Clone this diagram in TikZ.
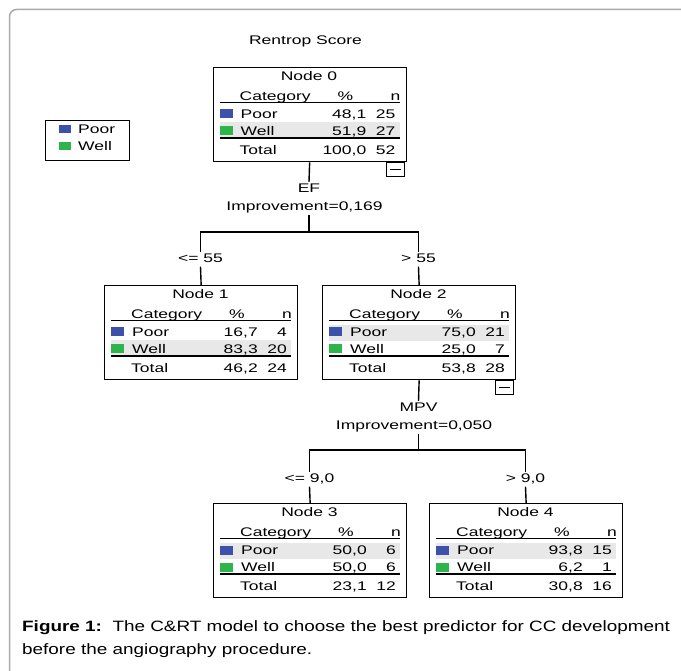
\documentclass[tikz,border=0pt]{standalone}
\usepackage{fontspec}
\newfontfamily\treefont[FakeStretch=1.4]{Liberation Sans}
\newfontfamily\capfont[FakeStretch=1.26]{Liberation Sans}
\usetikzlibrary{calc,positioning}

\definecolor{poorblue}{RGB}{60,82,170}
\definecolor{wellgreen}{RGB}{45,180,75}
\definecolor{rowgray}{RGB}{232,232,232}
\definecolor{framegray}{RGB}{170,170,170}

% one tree node: index, top left corner, offset of shaded row, table values
\newcommand{\ctnode}[9]{%
  \coordinate (c#1) at (#2);
  \fill[rowgray] ($(c#1)+(7,#3)$) rectangle ++(180,16);
  \node[treebox] (n#1) at (c#1) {};
  \node[txt,anchor=base] at ($(c#1)+(96.5,13.5)$) {Node #1};
  \node[txt,anchor=base west] at ($(c#1)+(27,33.5)$) {Category};
  \node[txt,anchor=base] at ($(c#1)+(133,33.5)$) {\%};
  \node[txt,anchor=base east] at ($(c#1)+(188,33.5)$) {n};
  \draw[rule] ($(c#1)+(7,35.5)$) -- ++(180,0);
  \fill[poorblue] ($(c#1)+(7,42.5)$) rectangle ++(13,9);
  \node[txt,anchor=base west] at ($(c#1)+(28,51.5)$) {Poor};
  \node[txt,anchor=base east] at ($(c#1)+(154,51.5)$) {#4};
  \node[txt,anchor=base east] at ($(c#1)+(183,51.5)$) {#5};
  \fill[wellgreen] ($(c#1)+(7,59.5)$) rectangle ++(13,9);
  \node[txt,anchor=base west] at ($(c#1)+(28,68.5)$) {Well};
  \node[txt,anchor=base east] at ($(c#1)+(154,68.5)$) {#6};
  \node[txt,anchor=base east] at ($(c#1)+(183,68.5)$) {#7};
  \draw[rule,line width=1.7pt] ($(c#1)+(7,71)$) -- ++(180,0);
  \node[txt,anchor=base west] at ($(c#1)+(27,87.5)$) {Total};
  \node[txt,anchor=base east] at ($(c#1)+(154,87.5)$) {#8};
  \node[txt,anchor=base east] at ($(c#1)+(183,87.5)$) {#9};
}

\begin{document}
\begin{tikzpicture}[x=1pt,y=-1pt]

  \tikzstyle{txt}=[font=\treefont\fontsize{12.5}{15}\selectfont,inner sep=0pt];
  \tikzstyle{lbl}=[txt,inner sep=1.5pt,text height=9pt,text depth=2.5pt,anchor=base];
  \tikzstyle{treebox}=[draw,line width=1.3pt,rectangle,anchor=north west,
    minimum width=193pt,minimum height=94pt,inner sep=0pt];
  \tikzstyle{minusbox}=[draw,line width=1.2pt,rectangle,anchor=north east,
    minimum width=18pt,minimum height=14pt,inner sep=0pt];
  \tikzstyle{rule}=[line width=1.3pt];
  \tikzstyle{edge}=[line width=1.4pt];

  \useasboundingbox (0,0) rectangle (681,671);
  \draw[framegray,line width=1.5pt,rounded corners=7pt] (681,9.5) -- (9.5,9.5) -- (9.5,671);

  \node[txt,anchor=base] (title) at (305.5,44.5) {Rentrop Score};

  %% legend
  \node[draw,line width=1.4pt,anchor=north west,minimum width=84pt,
    minimum height=40pt,inner sep=0pt] (legend) at (45,120) {};
  \fill[poorblue] (59,125) rectangle ++(12,8.5);
  \node[txt,anchor=base west] (lpoor) at (78,133.5) {Poor};
  \fill[wellgreen] (59,142) rectangle ++(12,8.5);
  \node[txt,anchor=base west] (lwell) at (78,150.5) {Well};

  %% tree nodes
  \ctnode{0}{212.5,67}{55}{48,1}{25}{51,9}{27}{100,0}{52}
  \ctnode{1}{104,285}{55}{16,7}{4}{83,3}{20}{46,2}{24}
  \ctnode{2}{322,285}{40}{75,0}{21}{25,0}{7}{53,8}{28}
  \ctnode{3}{213,503}{40}{50,0}{6}{50,0}{6}{23,1}{12}
  \ctnode{4}{429,503}{40}{93,8}{15}{6,2}{1}{30,8}{16}

  \node[minusbox] (m0) at ($(n0.south east)+(-2,0)$) {};
  \draw[line width=1.1pt] ($(m0.west)+(4,0)$) -- ($(m0.east)+(-4,0)$);
  \node[minusbox] (m2) at ($(n2.south east)+(-2,0)$) {};
  \draw[line width=1.1pt] ($(m2.west)+(4,0)$) -- ($(m2.east)+(-4,0)$);

  %% first split
  \node[lbl] (ef) at (309,192.5) {EF};
  \node[lbl] (imp0) at (304.5,210.5) {Improvement=0,169};
  \coordinate (s0) at (309,232);
  \node[lbl] (le55) at (200.5,262.5) {<= 55};
  \node[lbl] (gt55) at (418.5,262.5) {> 55};

  \draw[edge] (n0.south) -- (ef.north);
  \draw[edge] (imp0.south -| s0) -- (s0);
  \draw[edge] (le55.north) |- (s0) -| (gt55.north);
  \draw[edge] (le55.south) -- (n1.north);
  \draw[edge] (gt55.south) -- (n2.north);

  %% second split
  \node[lbl] (mpv) at (418.5,411.5) {MPV};
  \node[lbl] (imp1) at (414,429.5) {Improvement=0,050};
  \coordinate (s2) at (418.5,450);
  \node[lbl] (le90) at (309.5,482.5) {<= 9,0};
  \node[lbl] (gt90) at (525.5,482.5) {> 9,0};

  \draw[edge] (n2.south) -- (mpv.north);
  \draw[edge] (imp1.south -| s2) -- (s2);
  \draw[edge] (le90.north) |- (s2) -| (gt90.north);
  \draw[edge] (le90.south) -- (n3.north);
  \draw[edge] (gt90.south) -- (n4.north);

  %% caption
  \node[anchor=base west,inner sep=0pt,font=\capfont\fontsize{15}{23}\selectfont] (cap1)
    at (22,631.5) {\textbf{Figure 1:}\ \ The C\&RT model to choose the best predictor for CC development};
  \node[anchor=base west,inner sep=0pt,font=\capfont\fontsize{15}{23}\selectfont] (cap2)
    at (22,654.5) {before the angiography procedure.};

\end{tikzpicture}
\end{document}
